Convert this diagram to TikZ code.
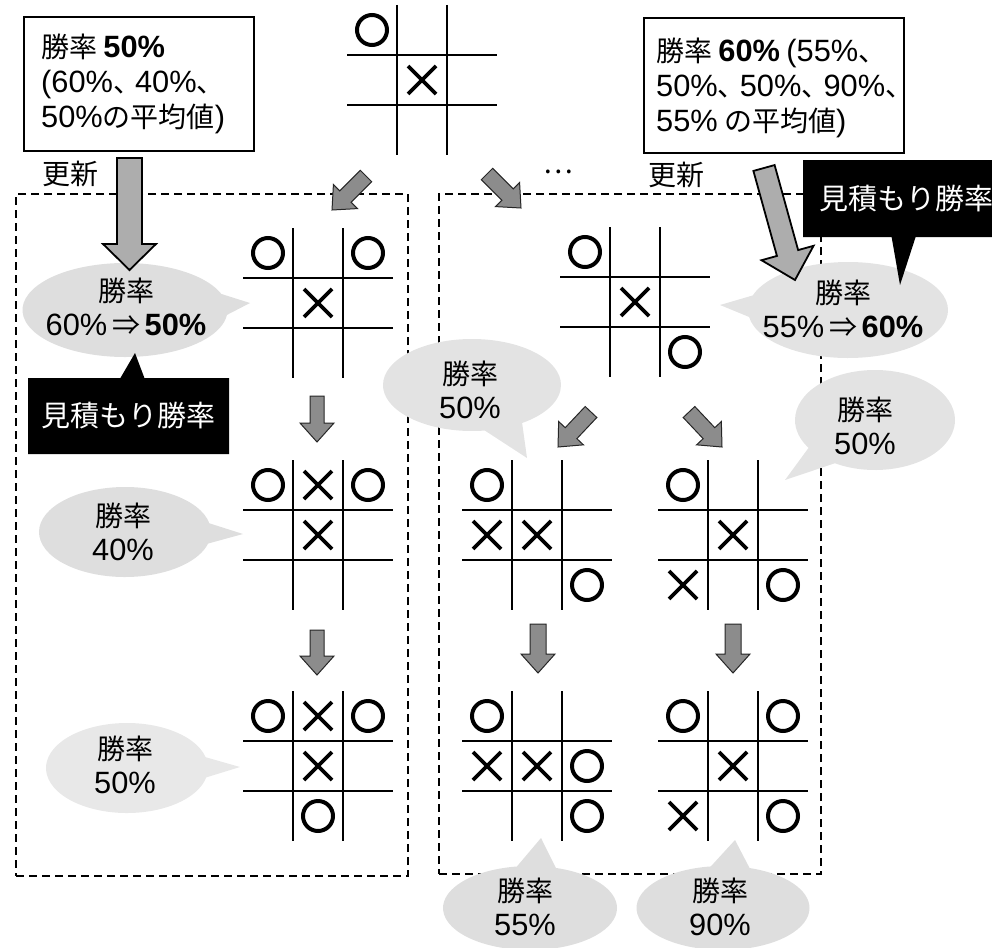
\documentclass[tikz,border=0pt]{standalone}
\usepackage{fontspec}
\setmainfont{Noto Sans CJK JP}
\newfontfamily\lat{Liberation Sans}[Scale=1.1]
\usetikzlibrary{calc,shapes.callouts}
\newcommand\jpf{\fontsize{28}{34}\selectfont}
\newcommand\tou{、\kern-6pt}
\newcommand\bdgrid[3]{%
  \node[boardnode] (#1) at (#2,#3) {};
  \draw[gridline] ({#2-25},{#3-75}) -- ({#2-25},{#3+75});
  \draw[gridline] ({#2+25},{#3-75}) -- ({#2+25},{#3+75});
  \draw[gridline] ({#2-75},{#3-25}) -- ({#2+75},{#3-25});
  \draw[gridline] ({#2-75},{#3+25}) -- ({#2+75},{#3+25});
}
\newcommand\Om[4]{\draw[omark] ({#1+50*(#3)},{#2+50*(#4)}) circle[radius=15pt];}
\newcommand\Xm[4]{\draw[xmark] ({#1+50*(#3)-14},{#2+50*(#4)-14}) -- ({#1+50*(#3)+14},{#2+50*(#4)+14})
  ({#1+50*(#3)-14},{#2+50*(#4)+14}) -- ({#1+50*(#3)+14},{#2+50*(#4)-14});}
\newcommand\fatarrow[6]{%
  \coordinate (#2-b) at ($(#3)!#6!(#2)$);
  \draw[#1] ($(#2)!#4!90:(#3)$) -- ($(#2-b)!#4!90:(#3)$) -- ($(#2-b)!#5!90:(#3)$) -- (#3)
    -- ($(#2-b)!#5!-90:(#3)$) -- ($(#2-b)!#4!-90:(#3)$) -- ($(#2)!#4!-90:(#3)$) -- cycle;}
\tikzset{
  gridline/.style={line width=2.6pt},
  omark/.style={line width=4pt},
  xmark/.style={line width=3.8pt},
  boardnode/.style={minimum width=150pt, minimum height=150pt, inner sep=0pt, draw=none},
  dbox/.style={draw, dash pattern=on 8pt off 5pt, line width=2.3pt, inner sep=0pt},
  bubble/.style={ellipse callout, fill=black!13, draw=none, inner sep=0pt, callout pointer arc=26},
  bubtext/.style={align=center, font=\jpf, inner sep=0pt},
  blackbox/.style={rectangle callout, fill=black, text=white, inner sep=0pt,
    font=\fontsize{29}{29}\selectfont, callout pointer width=24pt},
  infobox/.style={draw, line width=1.7pt, fill=white, inner sep=0pt},
  infotext/.style={anchor=west, align=left, inner sep=0pt, font=\fontsize{28}{35}\selectfont},
  bigarrow/.style={fill=black!32, draw=black, line width=1.8pt, line join=miter},
  smallarrow/.style={fill=black!45, draw=black!85, line width=1pt, line join=miter},
}
\begin{document}
\begin{tikzpicture}[x=1pt,y=-1pt]
\useasboundingbox (0,0) rectangle (992,947);
\clip (0,0) rectangle (992,947);

% group frames
\node[dbox, anchor=north west, minimum width=392pt, minimum height=682pt] (grpL) at (15,193) {};
\node[dbox, anchor=north west, minimum width=382pt, minimum height=680pt] (grpR) at (438,193) {};

% bubbles
\node[bubble, minimum width=205pt, minimum height=94pt, callout absolute pointer={(250,303)}] (bL1) at (125,310) {};
\node[bubtext] (tL1) at (126,307) {勝率\\{\lat 60\%}\,⇒\,{\lat\bfseries 50\%}};
\node[bubble, minimum width=172pt, minimum height=90pt, callout absolute pointer={(243,534)}] (bL2) at (125,532) {};
\node[bubtext] (tL2) at (123,532) {勝率\\{\lat 40\%}};
\node[bubble, fill=black!9, minimum width=162pt, minimum height=90pt, callout absolute pointer={(240,767)}] (bL3) at (127,768) {};
\node[bubtext] (tL3) at (125,765) {勝率\\{\lat 50\%}};
\node[bubble, fill=black!11, minimum width=178pt, minimum height=92pt, callout absolute pointer={(527,458)}] (bRl) at (472,385) {};
\node[bubtext] (tRl) at (470,390) {勝率\\{\lat 50\%}};
\node[bubble, fill=black!11, minimum width=160pt, minimum height=100pt, callout absolute pointer={(785,480)}] (bRr) at (875,420) {};
\node[bubtext] (tRr) at (865,426) {勝率\\{\lat 50\%}};
\node[bubble, fill=black!11, minimum width=200pt, minimum height=96pt, callout absolute pointer={(720,305)}] (bRt) at (848,310) {};
\node[bubtext] (tRt) at (843,309) {勝率\\{\lat 55\%}\,⇒\,{\lat\bfseries 60\%}};
\node[bubble, minimum width=174pt, minimum height=84pt, callout absolute pointer={(541,838)}] (bB1) at (530,908) {};
\node[bubtext] (tB1) at (525,907) {勝率\\{\lat 55\%}};
\node[bubble, minimum width=173pt, minimum height=84pt, callout absolute pointer={(735,840)}] (bB2) at (723,908) {};
\node[bubtext] (tB2) at (720,907) {勝率\\{\lat 90\%}};

% boards
\bdgrid{bT}{422}{80}
\Om{422}{80}{-1}{-1} \Xm{422}{80}{0}{0}

\bdgrid{bL1g}{318}{303}
\Om{318}{303}{-1}{-1} \Om{318}{303}{1}{-1} \Xm{318}{303}{0}{0}

\bdgrid{bL2g}{318}{535}
\Om{318}{535}{-1}{-1} \Xm{318}{535}{0}{-1} \Om{318}{535}{1}{-1} \Xm{318}{535}{0}{0}

\bdgrid{bL3g}{318}{766}
\Om{318}{766}{-1}{-1} \Xm{318}{766}{0}{-1} \Om{318}{766}{1}{-1} \Xm{318}{766}{0}{0} \Om{318}{766}{0}{1}

\bdgrid{bR1g}{635}{302}
\Om{635}{302}{-1}{-1} \Xm{635}{302}{0}{0} \Om{635}{302}{1}{1}

\bdgrid{bR2a}{537}{535}
\Om{537}{535}{-1}{-1} \Xm{537}{535}{-1}{0} \Xm{537}{535}{0}{0} \Om{537}{535}{1}{1}

\bdgrid{bR2b}{733}{535}
\Om{733}{535}{-1}{-1} \Xm{733}{535}{0}{0} \Xm{733}{535}{-1}{1} \Om{733}{535}{1}{1}

\bdgrid{bR3a}{537}{766}
\Om{537}{766}{-1}{-1} \Xm{537}{766}{-1}{0} \Xm{537}{766}{0}{0} \Om{537}{766}{1}{0} \Om{537}{766}{1}{1}

\bdgrid{bR3b}{733}{766}
\Om{733}{766}{-1}{-1} \Om{733}{766}{1}{-1} \Xm{733}{766}{0}{0} \Xm{733}{766}{-1}{1} \Om{733}{766}{1}{1}

% arrows
\coordinate (aUL) at (129.5,158); \coordinate (aULt) at (129.5,270);
\fatarrow{bigarrow}{aUL}{aULt}{12.5pt}{26.5pt}{26pt}
\coordinate (aUR) at (764,168); \coordinate (aURt) at (795,280);
\fatarrow{bigarrow}{aUR}{aURt}{11pt}{27pt}{28pt}

\coordinate (s1) at (366,176); \coordinate (s1t) at (332,210);
\fatarrow{smallarrow}{s1}{s1t}{8pt}{17pt}{19pt}
\coordinate (s2) at (487,174); \coordinate (s2t) at (521,208);
\fatarrow{smallarrow}{s2}{s2t}{8pt}{17pt}{19pt}
\coordinate (s3) at (317,396); \coordinate (s3t) at (317,442);
\fatarrow{smallarrow}{s3}{s3t}{7pt}{17pt}{19pt}
\coordinate (s4) at (317,630); \coordinate (s4t) at (317,675);
\fatarrow{smallarrow}{s4}{s4t}{7pt}{17pt}{19pt}
\coordinate (s5) at (591,412); \coordinate (s5t) at (558,447);
\fatarrow{smallarrow}{s5}{s5t}{8pt}{17pt}{19pt}
\coordinate (s6) at (689,412); \coordinate (s6t) at (722,447);
\fatarrow{smallarrow}{s6}{s6t}{8pt}{17pt}{19pt}
\coordinate (s7) at (538,624); \coordinate (s7t) at (538,673);
\fatarrow{smallarrow}{s7}{s7t}{8pt}{17pt}{19pt}
\coordinate (s8) at (733,624); \coordinate (s8t) at (733,673);
\fatarrow{smallarrow}{s8}{s8t}{8pt}{17pt}{19pt}

% black callouts
\node[blackbox, minimum width=201pt, minimum height=76pt, callout absolute pointer={(135,353)}] (ebL) at (128.5,416) {見積もり勝率};
\node[blackbox, minimum width=207pt, minimum height=77pt, callout absolute pointer={(900,285)}] (ebR) at (906.5,198.5) {見積もり勝率};

% info boxes
\node[infobox, anchor=north west, minimum width=230pt, minimum height=134pt] (boxL) at (23,16) {};
\node[infotext] (txL) at (41,84) {勝率 {\lat\bfseries 50\%}\\{\lat (}{\lat 60\%}\tou{\lat 40\%}、\\{\lat 50\%}の平均値{\lat )}};
\node[infobox, anchor=north west, minimum width=260pt, minimum height=135pt] (boxR) at (643,17) {};
\node[infotext] (txR) at (656,88) {勝率 {\lat\bfseries 60\%} {\lat (55\%}、\\{\lat 50\%}\tou{\lat 50\%}\tou{\lat 90\%}、\\{\lat 55\%} の平均値{\lat )}};

\node[font=\jpf, inner sep=0pt] (upL) at (70,174) {更新};
\node[font=\jpf, inner sep=0pt] (upR) at (676,175) {更新};
\node[font=\jpf, inner sep=0pt] (dots) at (558,172) {…};
\end{tikzpicture}
\end{document}
